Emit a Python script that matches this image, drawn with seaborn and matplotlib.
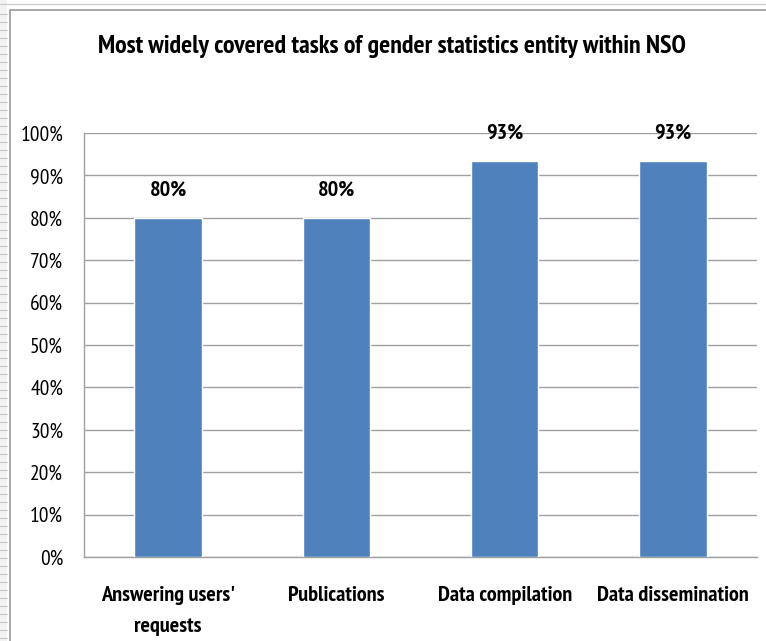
import matplotlib
matplotlib.use("Agg")
import matplotlib.pyplot as plt
import seaborn as sns
import pandas as pd
from matplotlib.patches import Rectangle
from matplotlib.lines import Line2D

categories = ["Answering users'\nrequests", "Publications", "Data compilation", "Data dissemination"]
values = [80.0, 80.0, 93.3, 93.3]
labels = ["80%", "80%", "93%", "93%"]
yticks = [0, 10, 20, 30, 40, 50, 60, 70, 80, 90, 100]
ytick_labels = [f"{t}%" for t in yticks]
title = "Most widely covered tasks of gender statistics entity within NSO"

sns.set_theme(style="white")
plt.rcParams['font.family'] = ['PT Sans Narrow', 'DejaVu Sans']
plt.rcParams['text.color'] = 'black'
plt.rcParams['xtick.color'] = 'black'
plt.rcParams['ytick.color'] = 'black'

df = pd.DataFrame({"cat": categories, "val": values})

fig = plt.figure(figsize=(7.66, 6.41), dpi=100)
ax = fig.add_axes([84/766, 1 - 557/641, (757-84)/766, (557-133)/641])

sns.barplot(data=df, x="cat", y="val", color="#4f81bd", width=0.4, saturation=1, ax=ax, zorder=3)

ax.set_ylim(0, 100)
ax.set_yticks(yticks)
ax.set_yticklabels(ytick_labels, fontsize=15.5)
ax.set_xlabel("")
ax.set_ylabel("")
ax.grid(axis="y", color="#a0a0a0", linewidth=1, zorder=0)
for s in ["top", "right"]:
    ax.spines[s].set_visible(False)
for s in ["left", "bottom"]:
    ax.spines[s].set_color("#a0a0a0")
    ax.spines[s].set_linewidth(1)
ax.tick_params(axis="y", length=0, pad=15)
ax.tick_params(axis="x", length=0, pad=21)
for t in ax.get_xticklabels():
    t.set_fontweight("bold")
    t.set_fontsize(16)
    t.set_linespacing(1.8)

for p, lab in zip(ax.patches, labels):
    ax.annotate(lab, (p.get_x() + p.get_width()/2, p.get_height()),
                xytext=(0, 20), textcoords="offset points", ha="center", va="center",
                fontsize=16, fontweight="bold", zorder=5)

fig.text(392/766, 1 - 47/641, title, ha="center", va="center", fontsize=18.7, fontweight="bold")

# outer frame
fig.patches.append(Rectangle((10/766, -0.1), 1.2, 1 - 10/641 + 0.1, transform=fig.transFigure,
                             fill=False, edgecolor="#9a9a9a", linewidth=1.2))
fig.patches.append(Rectangle((0, 0), 7/766, 1, transform=fig.transFigure,
                             facecolor="#f2f2f2", edgecolor="none"))
for y in range(14, 641, 8):
    fig.lines.append(Line2D([0, 7/766], [1 - y/641, 1 - y/641], transform=fig.transFigure,
                            color="#c8c8c8", linewidth=0.8))
fig.lines.append(Line2D([0, 1], [1 - 4/641, 1 - 4/641], transform=fig.transFigure,
                        color="#d0d0d0", linewidth=1))

fig.savefig("out.png", dpi=100)
